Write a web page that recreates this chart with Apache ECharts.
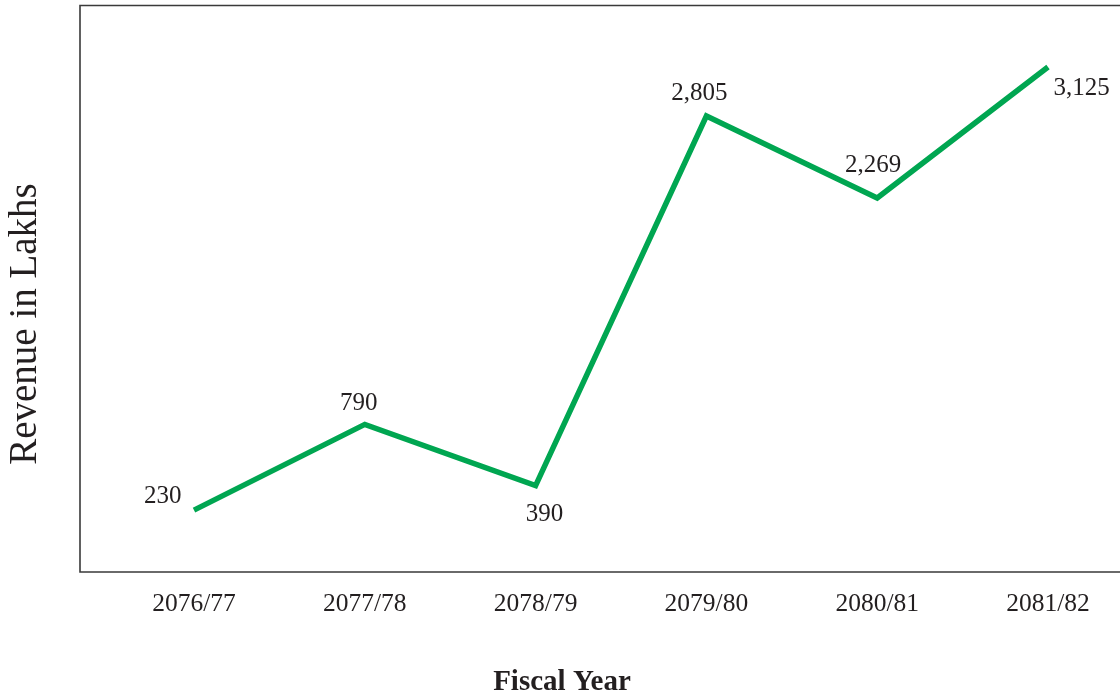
<!DOCTYPE html>
<html>
<head>
<meta charset="utf-8">
<script src="https://cdn.jsdelivr.net/npm/echarts@6/dist/echarts.min.js"></script>
<style>
  html, body { margin: 0; padding: 0; background: #ffffff; }
  #chart { width: 1120px; height: 699px; }
</style>
</head>
<body>
<div id="chart"></div>
<script>
// ---- Data ----
const fiscalYears = ['2076/77', '2077/78', '2078/79', '2079/80', '2080/81', '2081/82'];
const revenueLakhs = [230, 790, 390, 2805, 2269, 3125];
const xAxisTitle = 'Fiscal Year';
const yAxisTitle = 'Revenue in Lakhs';

// ---- Label placement per point (styling, separate from data) ----
const labelPlacement = [
  { position: 'left',   distance: 12, offset: [0, -14] },
  { position: 'top',    distance: 8,  offset: [-6, 0] },
  { position: 'bottom', distance: 16, offset: [9, 0] },
  { position: 'top',    distance: 10, offset: [-7, 0] },
  { position: 'top',    distance: 20, offset: [-4, 0] },
  { position: 'right',  distance: 5,  offset: [0, 21] }
];

const FONT = "'Liberation Serif', 'Times New Roman', serif";
const TEXT = '#231f20';

const seriesData = revenueLakhs.map((v, i) => ({
  value: v,
  label: Object.assign({}, labelPlacement[i])
}));

const chart = echarts.init(document.getElementById('chart'), null, { renderer: 'canvas' });
chart.setOption({
  animation: false,
  backgroundColor: '#ffffff',
  grid: [
    { left: 108.6, right: -13.4, top: 9.6, bottom: 153.7, show: false,
      outerBoundsMode: 'none', containLabel: false },
    { left: 80, right: -20, top: 5.5, bottom: 127, show: true,
      outerBoundsMode: 'none', containLabel: false,
      borderColor: '#3a3a3a', borderWidth: 1.6, backgroundColor: 'transparent' }
  ],
  xAxis: [
    {
      type: 'category', gridIndex: 0, data: fiscalYears, boundaryGap: true,
      axisLine: { show: false }, axisTick: { show: false }, splitLine: { show: false },
      axisLabel: { margin: 46, fontFamily: FONT, fontSize: 25.5, color: TEXT }
    },
    { type: 'value', gridIndex: 1, show: false }
  ],
  yAxis: [
    { type: 'value', gridIndex: 0, min: 0, max: 3500, show: false },
    { type: 'value', gridIndex: 1, show: false }
  ],
  series: [{
    type: 'line',
    xAxisIndex: 0, yAxisIndex: 0,
    data: seriesData,
    showSymbol: true,
    symbol: 'circle',
    symbolSize: 1,
    itemStyle: { color: 'rgba(0,0,0,0)' },
    lineStyle: { color: '#00a651', width: 5.5, join: 'miter', cap: 'butt' },
    label: {
      show: true,
      fontFamily: FONT, fontSize: 25, color: TEXT,
      formatter: p => Number(p.value).toLocaleString('en-US')
    },
    z: 5
  }],
  graphic: [
    {
      type: 'text', x: 26, y: 324, rotation: Math.PI / 2,
      style: { text: yAxisTitle, font: "39px 'Liberation Serif', serif", fill: TEXT,
               textAlign: 'center', textVerticalAlign: 'middle' }
    },
    {
      type: 'text', x: 562, y: 683,
      style: { text: xAxisTitle, font: "bold 29px 'Liberation Serif', serif", fill: TEXT,
               textAlign: 'center', textVerticalAlign: 'middle' }
    }
  ]
});
</script>
</body>
</html>
